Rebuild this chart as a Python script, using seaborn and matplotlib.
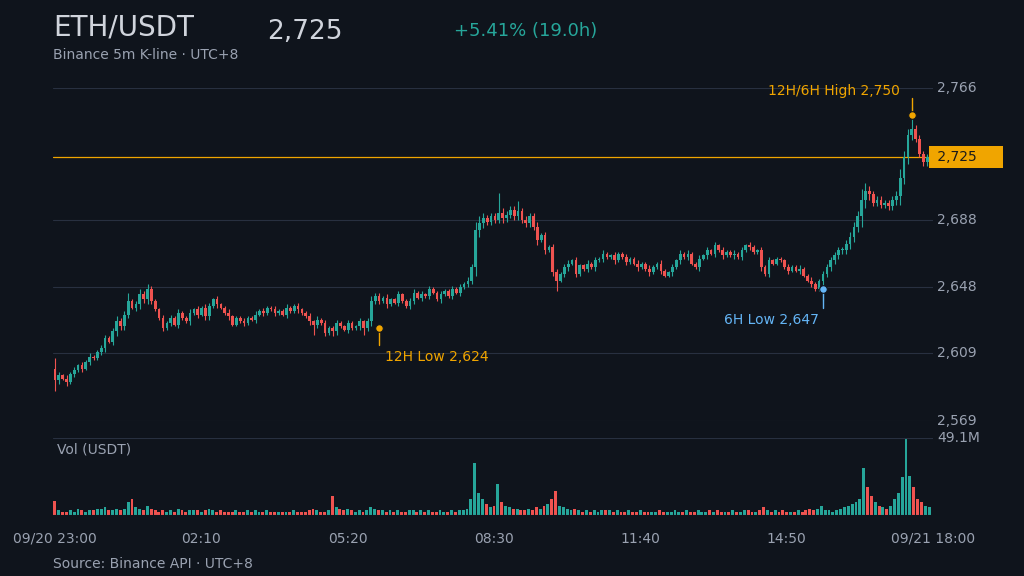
import numpy as np
import pandas as pd
import matplotlib
matplotlib.use("Agg")
import matplotlib.pyplot as plt
import seaborn as sns

first_open = 2600
closes = [
 2593,2596,2594,2592,2597,2599,2602,2600,2604,2607,2606,2610,
 2612,2618,2616,2622,2628,2625,2632,2640,2636,2638,2644,2641,
 2647,2640,2635,2630,2624,2627,2630,2626,2633,2630,2628,2633,
 2635,2632,2636,2631,2637,2641,2638,2636,2633,2631,2626,2630,
 2628,2627,2630,2629,2632,2634,2633,2636,2635,2633,2634,2632,
 2636,2634,2637,2635,2633,2631,2628,2626,2629,2627,2621,2624,
 2622,2627,2625,2623,2627,2624,2625,2628,2624,2628,2640,2643,
 2640,2642,2638,2641,2639,2644,2640,2637,2640,2645,2642,2644,
 2643,2647,2645,2641,2644,2646,2643,2647,2645,2648,2650,2652,
 2660,2682,2686,2689,2687,2690,2688,2692,2689,2691,2694,2690,
 2693,2688,2686,2690,2684,2676,2679,2670,2672,2657,2652,2656,
 2660,2662,2664,2656,2661,2659,2662,2660,2664,2665,2668,2666,
 2667,2664,2668,2666,2663,2665,2662,2660,2662,2659,2657,2660,
 2662,2658,2655,2657,2660,2664,2668,2666,2668,2662,2660,2665,
 2667,2670,2668,2673,2670,2667,2669,2667,2668,2666,2670,2673,
 2672,2669,2670,2660,2656,2664,2662,2665,2664,2660,2658,2660,
 2658,2659,2655,2652,2650,2647,2652,2656,2660,2664,2667,2670,
 2670,2674,2678,2684,2690,2700,2705,2703,2698,2700,2697,2698,
 2696,2700,2702,2713,2725,2738,2742,2736,2727,2722,2725,2725]
upper_wick = [
 6,2,1,2,1,2,1,2,1,2,1,1, 2,2,1,2,3,2,2,5,1,2,3,2, 3,2,1,1,2,1,2,1,2,1,1,2,
 1,2,1,2,2,1,2,1,1,2,1,1, 1,2,1,1,2,1,2,1,1,2,1,1, 2,1,1,2,1,1,2,1,2,1,2,1,
 1,2,1,1,2,1,1,2,1,2,3,2, 2,1,2,1,1,2,1,1,2,2,1,2, 1,2,1,1,2,1,1,2,1,2,1,2,
 2,5,4,3,2,2,2,12,3,2,2,2, 6,2,2,2,2,3,1,2,1,2,2,1, 2,2,1,2,1,1,2,1,2,1,2,1,
 1,2,1,1,2,1,1,2,1,1,2,1, 1,2,1,1,2,1,2,1,2,1,1,2, 1,2,1,2,1,2,1,1,2,1,2,1,
 2,1,1,2,1,2,1,1,1,1,2,1, 1,2,1,1,2,1,1,2,2,2,2,2, 2,2,3,3,3,6,5,3,2,2,2,2,
 2,2,3,5,4,4,13,2,2,2,2,1]
lower_wick = [
 6,2,1,2,1,2,1,2,1,2,1,1, 2,2,1,2,3,2,2,2,1,2,3,2, 3,2,1,1,2,1,2,1,2,1,1,2,
 1,2,1,2,2,1,2,1,1,2,1,1, 1,2,1,1,2,1,2,1,1,2,1,1, 2,1,1,2,1,1,2,6,2,1,2,1,
 3,2,1,1,2,1,1,2,4,2,3,2, 2,1,2,1,1,2,1,1,2,2,1,2, 1,2,1,1,2,1,1,2,1,2,1,2,
 2,5,4,3,2,2,2,2,3,2,2,2, 2,2,2,2,2,3,1,2,1,2,6,1, 2,2,1,2,1,1,2,1,2,1,2,1,
 1,2,1,1,2,1,1,2,1,1,2,1, 1,2,1,1,2,1,2,1,2,1,1,2, 1,2,1,2,1,2,1,1,2,1,2,1,
 2,1,1,2,1,2,1,1,1,1,2,1, 1,2,1,1,2,1,1,12,2,2,2,2, 2,2,3,3,3,6,5,3,2,2,2,2,
 2,2,3,5,4,4,3,2,2,2,2,1]
volumes = [
 9,3,2,2,3,2,4,3,2,3,3,4, 4,5,3,3,4,3,4,8,10,5,4,3, 6,4,3,2,3,2,3,2,4,3,2,3,
 3,3,2,3,4,3,2,3,2,2,2,3, 2,2,3,2,3,2,2,3,2,2,2,2, 2,2,3,2,2,2,3,4,3,2,2,3,
 12,5,4,3,4,3,2,3,2,3,5,4, 3,3,2,3,2,3,2,2,3,3,2,3, 2,3,2,2,3,2,2,3,2,3,3,4,
 10,33,14,10,7,5,6,20,8,6,5,4, 4,3,3,4,3,5,4,6,7,10,15,6, 5,4,3,4,3,2,3,2,3,2,3,3,
 3,2,3,2,2,3,2,2,3,2,2,2, 2,3,2,2,2,3,2,2,3,2,2,3, 2,2,3,2,3,2,2,2,3,2,2,3,
 3,2,2,3,5,3,2,3,2,3,2,2, 2,3,2,3,4,3,4,6,3,3,2,3, 4,5,6,7,8,10,30,18,12,8,6,5,
 4,6,10,14,24,49,25,18,10,8,6,5]
x_tick_pos = [0, 38, 76, 114, 152, 190, 228]
x_tick_labels = ["09/20 23:00", "02:10", "05:20", "08:30", "11:40", "14:50", "09/21 18:00"]
y_ticks = [2569, 2609, 2648, 2688, 2766]
last_price = 2725
high_idx, high_val = 222, 2750
low12_idx, low12_val = 84, 2624
low6_idx, low6_val = 199, 2647

BG = "#0f141c"; GREEN = "#26a69a"; RED = "#ef5350"; ORANGE = "#f0a500"; BLUE = "#64b5f6"
GRID = "#283040"; TXT = "#9aa2b1"

sns.set_theme(style="dark", rc={"axes.facecolor": BG, "figure.facecolor": BG,
                                "patch.edgecolor": "none", "patch.linewidth": 0})
plt.rcParams['font.family'] = ['DejaVu Sans']

n = len(closes)
opens = [first_open] + closes[:-1]
df = pd.DataFrame({"i": np.arange(n), "open": opens, "close": closes, "vol": volumes})
df["up"] = df.close >= df.open
df["high"] = df[["open", "close"]].max(axis=1) + np.array(upper_wick)
df["low"] = df[["open", "close"]].min(axis=1) - np.array(lower_wick)
df["dir"] = np.where(df.up, "up", "down")

W, H = 1024, 576
fig = plt.figure(figsize=(W/100, H/100), dpi=100)
L, R = 53/W, 933/W
ax = fig.add_axes([L, 1-421/H, R-L, 333/H])
axv = fig.add_axes([L, 1-515/H, R-L, 77/H])
xlim = (-0.5, 227.5)

for a in (ax, axv):
    a.set_facecolor(BG)
    for s in a.spines.values():
        s.set_visible(False)
    a.set_xlim(*xlim)
    a.tick_params(left=False, bottom=False, labelleft=False, labelbottom=False)
    a.grid(False)

ax.set_ylim(2569, 2766)
for t in y_ticks:
    ax.axhline(t, color=GRID, lw=0.8, zorder=0)
    ax.text(1.005, t, f"{t:,}", transform=ax.get_yaxis_transform(), color=TXT, fontsize=10, va="center", ha="left")

cols = np.where(df.up, GREEN, RED)
ax.vlines(df.i, df.low, df.high, colors=cols, lw=0.8, zorder=2)
body_lo = df[["open", "close"]].min(axis=1)
body_h = (df.close - df.open).abs().clip(lower=0.6)
ax.bar(df.i, body_h, bottom=body_lo, width=0.7, color=cols, edgecolor="none", linewidth=0, zorder=3)

ax.axhline(last_price, color=ORANGE, lw=0.9, zorder=1)
ax.text(1.0, last_price, f" {last_price:,}     ", transform=ax.get_yaxis_transform(), color="#1a1a1a",
        fontsize=10, va="center", ha="left",
        bbox=dict(boxstyle="square,pad=0.3", fc=ORANGE, ec="none"))

ax.plot([high_idx, high_idx], [high_val, high_val + 10], color=ORANGE, lw=1, zorder=4)
ax.scatter([high_idx], [high_val], color=ORANGE, s=30, zorder=5, edgecolor=BG, lw=0.8)
ax.text(high_idx - 3, high_val + 14, f"12H/6H High {high_val:,}", color=ORANGE, fontsize=10, ha="right", va="center")
ax.plot([low12_idx, low12_idx], [low12_val, low12_val - 10], color=ORANGE, lw=1, zorder=4)
ax.scatter([low12_idx], [low12_val], color=ORANGE, s=30, zorder=5, edgecolor=BG, lw=0.8)
ax.text(low12_idx + 1.5, low12_val - 17, f"12H Low {low12_val:,}", color=ORANGE, fontsize=10, ha="left", va="center")
ax.plot([low6_idx, low6_idx], [low6_val, low6_val - 11], color=BLUE, lw=1, zorder=4)
ax.scatter([low6_idx], [low6_val], color=BLUE, s=30, zorder=5, edgecolor=BG, lw=0.8)
ax.text(low6_idx - 1, low6_val - 18, f"6H Low {low6_val:,}", color=BLUE, fontsize=10, ha="right", va="center")

vol_max = 49.1
axv.set_ylim(0, vol_max)
axv.axhline(vol_max, color=GRID, lw=0.8)
sns.barplot(data=df, x="i", y="vol", hue="dir", palette={"up": GREEN, "down": RED},
            native_scale=True, width=0.75, legend=False, ax=axv, saturation=1,
            edgecolor="none", linewidth=0)
axv.set_xlim(*xlim)
axv.set_xlabel(""); axv.set_ylabel("")
axv.text(0.005, 0.85, "Vol (USDT)", transform=axv.transAxes, color=TXT, fontsize=10, va="center")
axv.text(1.005, 1.0, "49.1M", transform=axv.transAxes, color=TXT, fontsize=10, va="center")
axv.axhline(0, color=GRID, lw=0.8)
axv.set_xticks(x_tick_pos)
axv.set_xticklabels(x_tick_labels)
axv.tick_params(labelbottom=True, colors=TXT, labelsize=10, pad=6)

fig.text(53/W, 1-27/H, "ETH/USDT", color="#d0d4dc", fontsize=20, va="center")
fig.text(267/W, 1-32/H, "2,725", color="#d0d4dc", fontsize=19, va="center")
fig.text(454/W, 1-31/H, "+5.41% (19.0h)", color=GREEN, fontsize=13, va="center")
fig.text(53/W, 1-55/H, "Binance 5m K-line · UTC+8", color=TXT, fontsize=10, va="center")
fig.text(53/W, 1-564/H, "Source: Binance API · UTC+8", color=TXT, fontsize=10, va="center")

fig.savefig("out.png", dpi=100, facecolor=BG)
